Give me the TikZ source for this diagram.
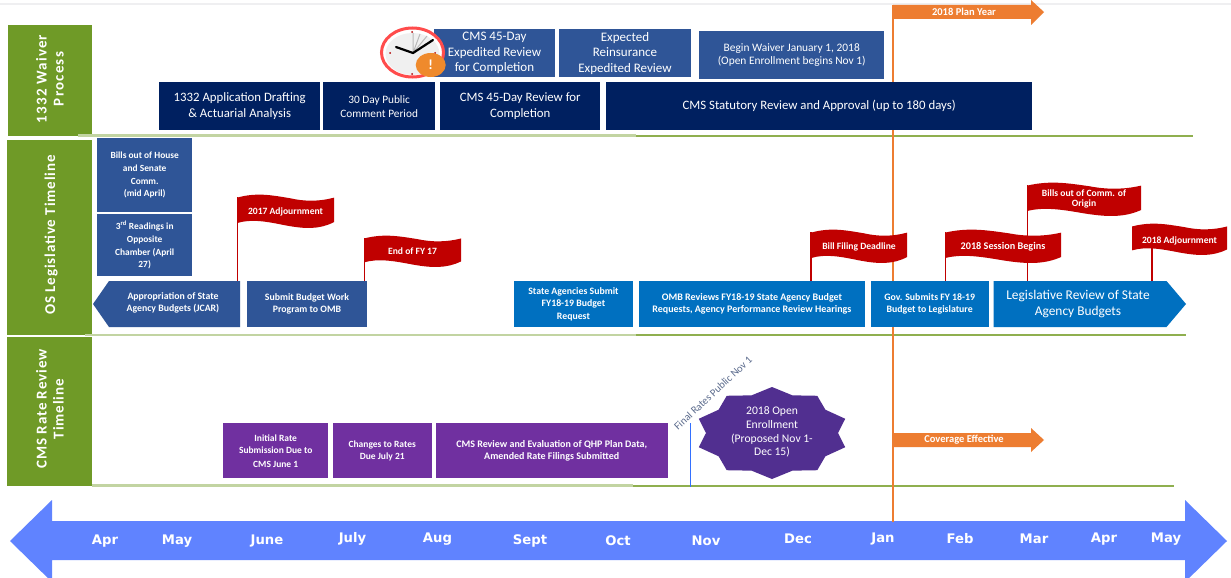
\documentclass[tikz,border=0pt]{standalone}
\usepackage{fontspec}
\setmainfont{Carlito}
\newfontfamily\monthf{DejaVu Sans}
\definecolor{navyb}{HTML}{002060}
\definecolor{midb}{HTML}{2F5597}
\definecolor{brightb}{HTML}{0070C0}
\definecolor{purp}{HTML}{7030A0}
\definecolor{starp}{HTML}{512F90}
\definecolor{grn}{HTML}{6F9A27}
\definecolor{grnl}{HTML}{C2D4A2}
\definecolor{grnd}{HTML}{8FAF4F}
\definecolor{oran}{HTML}{ED7D31}
\definecolor{redf}{HTML}{C00000}
\definecolor{bigb}{HTML}{6083FF}
\definecolor{rtxt}{HTML}{5A6A8C}
\tikzset{
  x=1pt,y=-1pt,
  txt/.style={text=white,align=center,inner sep=0pt},
  fnavy/.style={fill=navyb,txt,font=\fontsize{12.8}{15.5}\selectfont},
  fmid/.style={fill=midb,txt,font=\fontsize{13}{15.5}\selectfont},
  fmidw/.style={fill=midb,txt,font=\fontsize{11.4}{13.5}\selectfont},
  fsmall/.style={fill=midb,txt,font=\bfseries\fontsize{9.4}{12.4}\selectfont},
  fbright/.style={fill=brightb,txt,font=\bfseries\fontsize{9.8}{12.2}\selectfont},
  fpurp/.style={fill=purp,txt,font=\bfseries\fontsize{9.5}{12.5}\selectfont},
  flagtxt/.style={txt,font=\bfseries\fontsize{9.6}{10}\selectfont},
  poleline/.style={draw=redf,line width=1.5pt},
  sidelab/.style={txt,rotate=90,font=\bfseries\fontsize{15}{17}\selectfont},
  month/.style={text=white,inner sep=0pt,font=\monthf\bfseries\fontsize{13.2}{15}\selectfont},
  orlab/.style={txt,font=\bfseries\fontsize{10.5}{11}\selectfont},
}
\newcommand\bx[7]{\node[#2,anchor=north west,minimum width={(#5-#3)*1pt},minimum height={(#6-#4)*1pt}] (#1) at (#3,#4) {#7};}
\newcommand\wavef[7]{%
  \begin{scope}[shift={(#2,#3)},x=#4pt,y=-#5pt]
    \fill[redf] (0,.08) .. controls (.2,-.08) and (.35,0) .. (.55,.1) .. controls (.7,.2) and (.85,.2) .. (1,.08)
      -- (1,.82) .. controls (.85,1.05) and (.7,1.03) .. (.5,.92) .. controls (.3,.8) and (.15,.72) .. (0,.85) -- cycle;
  \end{scope}
  \node[flagtxt] (#1) at ({#2+#4/2},{#3+#5/2+#6}) {#7};}
\begin{document}
\begin{tikzpicture}
\useasboundingbox (0,0) rectangle (1231,578);
\clip (0,0) rectangle (1231,578);
\fill[white] (0,0) rectangle (1231,578);
\fill[blue!6!gray!12] (0,3) rectangle (1231,5);
% side panels
\node[fill=grn,anchor=north west,minimum width=84pt,minimum height=111pt,inner sep=0pt] (p1) at (8,25) {};
\node[fill=grn,anchor=north west,minimum width=85pt,minimum height=195pt,inner sep=0pt] (p2) at (7,140) {};
\node[fill=grn,anchor=north west,minimum width=85pt,minimum height=149pt,inner sep=0pt] (p3) at (7,337) {};
\node[sidelab,font=\addfontfeature{LetterSpace=8}\bfseries\fontsize{15}{17}\selectfont] (l1) at (50,79) {1332 Waiver\\Process};
\node[sidelab,font=\addfontfeature{LetterSpace=6}\bfseries\fontsize{15}{17}\selectfont] (l2) at (51,235) {OS Legislative Timeline};
\node[sidelab,font=\addfontfeature{LetterSpace=6}\bfseries\fontsize{15}{17}\selectfont] (l3) at (50,409) {CMS Rate Review\\Timeline};
% separators
\draw[grnl,line width=2.8pt] (78,135.5) -- (636,135.5);
\draw[grnd,line width=2pt] (636,135.5) -- (1193,135.5);
\draw[grnl,line width=2.8pt] (85,335) -- (636,335);
\draw[grnd,line width=2pt] (636,335) -- (1186,335);
\draw[grnl,line width=2.8pt] (92,485.5) -- (633,485.5);
\draw[grnd,line width=2pt] (633,485.5) -- (1174,485.5);
% big arrow
\fill[bigb] (10,541) -- (52,500) -- (52,521) -- (1185,521) -- (1185,500) -- (1227,541) -- (1185,582) -- (1185,560) -- (52,560) -- (52,582) -- cycle;
% jan line
\coordinate (j0) at (893,5);
\coordinate (j1) at (893,522);
\draw[oran,line width=1.4pt] (j0) -- (j1);
% plan year arrows
\fill[oran] (893,5) -- (1031,5) -- (1031,0) -- (1044,12) -- (1031,25) -- (1031,19) -- (893,19) -- cycle;
\node[orlab] (py) at (964,12) {2018 Plan Year};
\fill[oran] (893,433) -- (1031,433) -- (1031,428) -- (1044,440) -- (1031,452) -- (1031,447) -- (893,447) -- cycle;
\node[orlab] (ce) at (964,440) {Coverage Effective};
% waiver boxes
\bx{a1}{fnavy}{159}{82}{320}{130}{1332 Application Drafting\\\& Actuarial Analysis}
\bx{a2}{fnavy,font=\fontsize{11.3}{14}\selectfont}{323}{82}{435}{130}{30 Day Public\\Comment Period}
\bx{a3}{fnavy}{440}{82}{600}{130}{CMS 45-Day Review for\\Completion}
\bx{a4}{fnavy}{606}{82}{1032}{130}{\raisebox{2pt}{CMS Statutory Review and Approval (up to 180 days)}}
\bx{b1}{fmid}{434}{29}{554.5}{77}{CMS 45-Day\\Expedited Review\\for Completion}
\bx{b2}{fmid}{558.5}{29}{691}{77}{Expected\\Reinsurance\\Expedited Review}
\bx{b3}{fmidw}{699}{31}{884}{79}{\raisebox{1.5pt}{Begin Waiver January 1, 2018}\\\raisebox{1.5pt}{(Open Enrollment begins Nov 1)}}
% clock
\fill[white] (412.5,52.5) ellipse [x radius=32,y radius=25];
\fill[gray!12] (412.5,54) ellipse [x radius=27,y radius=21];
\draw[red!70!white,line width=3pt] (412.5,52.5) ellipse [x radius=31,y radius=24.5];
\draw[gray!55,line width=1pt] (413,53) -- (413,33) (413,53) -- (420,34) (413,53) -- (427,36);
\draw[black,line width=2.2pt,line cap=round] (396,47) -- (413,53) -- (433,40);
\fill[red!70!black] (412,32) circle [radius=1] (412,74) circle [radius=1] (390,53) circle [radius=1] (435,53) circle [radius=1];
\fill[oran!90!yellow] (430.7,65) ellipse [x radius=15,y radius=12];
\node[txt,font=\bfseries\fontsize{14}{14}\selectfont] (ex) at (430.7,65) {!};
% legislative boxes
\bx{c1}{fsmall}{97}{138}{192}{212}{Bills out of House\\and Senate\\[1pt]Comm.\\(mid April)}
\bx{c2}{fsmall}{97}{214}{192}{276}{3\textsuperscript{rd} Readings in\\Opposite\\[1pt]Chamber (April\\27)}
\coordinate (d0) at (93,304);
\fill[midb] (d0) -- (109,281) -- (240,281) -- (240,327) -- (109,327) -- cycle;
\node[txt,font=\bfseries\fontsize{9.8}{12.2}\selectfont] (d) at (173,303) {Appropriation of State\\Agency Budgets (JCAR)};
\bx{e}{fsmall,font=\bfseries\fontsize{9.8}{12.2}\selectfont}{246.5}{281}{367}{327}{Submit Budget Work\\Program to OMB}
\bx{f}{fbright}{513.5}{281}{633}{327}{State Agencies Submit\\FY18-19 Budget\\[1pt]Request}
\bx{g}{fbright,font=\bfseries\fontsize{10}{12.2}\selectfont}{639}{281}{864.5}{327}{OMB Reviews FY18-19 State Agency Budget\\Requests, Agency Performance Review Hearings}
\bx{h}{fbright}{870.5}{281}{988.5}{327}{Gov. Submits FY 18-19\\Budget to Legislature}
\coordinate (i0) at (1186,304);
\fill[brightb] (993.5,281) -- (1166.5,281) -- (i0) -- (1166.5,327) -- (993.5,327) -- cycle;
\node[txt,font=\fontsize{13.4}{16}\selectfont] (i) at (1078,304) {Legislative Review of State\\Agency Budgets};
% flags: poles
\coordinate (q1) at (237.5,197); \draw[poleline] (q1) -- (q1 |- e.north);
\coordinate (q2) at (364.5,238); \draw[poleline] (q2) -- (q2 |- e.north);
\coordinate (q3) at (811,232);   \draw[poleline] (q3) -- (q3 |- g.north);
\coordinate (q4) at (945.5,232); \draw[poleline] (q4) -- (q4 |- h.north);
\coordinate (q5) at (1027.5,185);\draw[poleline] (q5) -- (q5 |- h.north);
\coordinate (q6) at (1152,240);  \draw[poleline] (q6) -- (q6 |- h.north);
\wavef{f5}{1027}{183}{114}{33}{-1}{Bills out of Comm. of\\Origin}
\wavef{f1}{237}{195}{97}{33}{0}{2017 Adjournment}
\wavef{f2}{364}{236}{97}{31}{0}{End of FY 17}
\wavef{f3}{811}{230}{96}{33}{0}{Bill Filing Deadline}
\wavef{f4}{945}{230}{116}{33}{0}{\fontsize{10.2}{10}\selectfont 2018 Session Begins}
\wavef{f6}{1132}{224}{95}{31}{1}{2018 Adjournment}
% rate review
\bx{r1}{fpurp}{223}{423}{328}{478}{Initial Rate\\Submission Due to\\[1pt]CMS June 1}
\bx{r2}{fpurp}{332.5}{423}{431.5}{478}{Changes to Rates\\Due July 21}
\bx{r3}{fpurp,font=\bfseries\fontsize{10}{12.2}\selectfont}{435.5}{423}{667.5}{478}{CMS Review and Evaluation of QHP Plan Data,\\Amended Rate Filings Submitted}
\coordinate (n0) at (690.5,423);
\coordinate (n1) at (690.5,487);
\draw[blue!70!cyan!80!white,line width=1.2pt] (n0) -- (n1);
\node[text=rtxt,inner sep=0pt,rotate=43,font=\fontsize{10.6}{12}\selectfont] (nt) at (713,393) {Final Rates Public Nov 1};
% star
\fill[starp] plot[samples at={0,...,19},variable=\k] ({772+(mod(\k,2)==0?77:66)*cos(90+18*\k)},{433-(mod(\k,2)==0?46:39.6)*sin(90+18*\k)}) -- cycle;
\node[txt,font=\fontsize{11.6}{13.7}\selectfont] (st) at (772,432) {2018 Open\\Enrollment\\(Proposed Nov 1-\\Dec 15)};
% months
\node[month] (m1) at (105,541) {Apr};
\node[month] (m2) at (177,541) {May};
\node[month] (m3) at (267,541) {June};
\node[month] (m4) at (352.5,539) {July};
\node[month] (m5) at (437.5,539) {Aug};
\node[month] (m6) at (530,541) {Sept};
\node[month] (m7) at (618,541) {Oct};
\node[month] (m8) at (706,541) {Nov};
\node[month] (m9) at (798,539) {Dec};
\node[month] (m10) at (883,539) {Jan};
\node[month] (m11) at (960,539) {Feb};
\node[month] (m12) at (1034,539) {Mar};
\node[month] (m13) at (1104,539) {Apr};
\node[month] (m14) at (1166,539) {May};
\end{tikzpicture}
\end{document}
